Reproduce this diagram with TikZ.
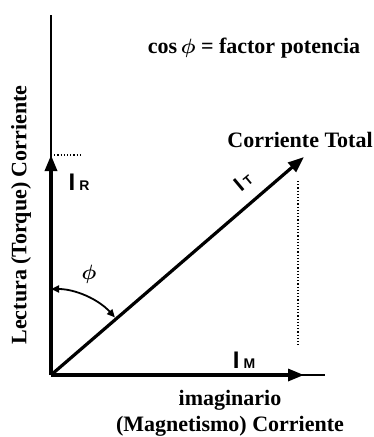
\documentclass[tikz,border=0pt]{standalone}
\usepackage{amsmath}
\usepackage{fontspec}
\setmainfont{Liberation Serif}
\setsansfont{Liberation Sans}
\usetikzlibrary{arrows.meta, positioning}

\begin{document}
\begin{tikzpicture}[
    x=1pt, y=-1pt,
    axis/.style={line width=2.4pt},
    vec/.style={line width=3.2pt, -{Triangle[length=16pt, width=12pt]}},
    guide/.style={dotted, line width=1.2pt},
    anglearc/.style={line width=1.8pt, {Triangle[length=8pt, width=7pt]}-{Triangle[length=8pt, width=7pt]}},
    lbl/.style={font=\bfseries\fontsize{22}{26}\selectfont, inner sep=0pt},
    sym/.style={font=\sffamily\bfseries\fontsize{24}{26}\selectfont, inner sep=0pt}
]
\useasboundingbox (0,0) rectangle (374,437);

% axes and vectors
\coordinate (O) at (51,375);
\coordinate (top) at (51,15);
\coordinate (right) at (325,375);
\coordinate (IR) at (51,155);
\coordinate (IM) at (304,375);
\coordinate (IT) at (304,157);

\draw[axis] (O) -- (top);
\draw[axis] (O) -- (right);
\draw[vec] (O) -- (IR);
\draw[vec] (O) -- (IM);
\draw[vec] (O) -- (IT);

% projections
\draw[guide] (IR) -- ++(30,0);
\draw[guide] (IT) ++(-6,24) -- ++(0,165);

% angle
\draw[anglearc] (O) ++(0,-86) arc[start angle=-90, end angle=-42, radius=86];
\node (phi) at (89,274) {\huge$\boldsymbol{\phi}$};

% labels
\node[lbl] (cosphi) at (254,48) {cos\,$\boldsymbol{\phi}$ = factor potencia};
\node[lbl, rotate=90] (ylabel) at (21,215) {Lectura (Torque) Corriente};
\node[lbl] (total) at (300,140) {Corriente Total};
\node[lbl] (imag) at (230,400) {imaginario};
\node[lbl, below=6pt of imag] (magn) {(Magnetismo) Corriente};
\node[sym] (lIR) at (79,182) {I\,{\fontsize{14}{16}\selectfont R}};
\node[sym] (lIM) at (244,360) {I\,{\fontsize{14}{16}\selectfont M}};
\node[sym, rotate=40, font=\sffamily\bfseries\fontsize{21}{23}\selectfont] (lIT) at (243,181) {I\,{\fontsize{13}{15}\selectfont T}};
\end{tikzpicture}
\end{document}
